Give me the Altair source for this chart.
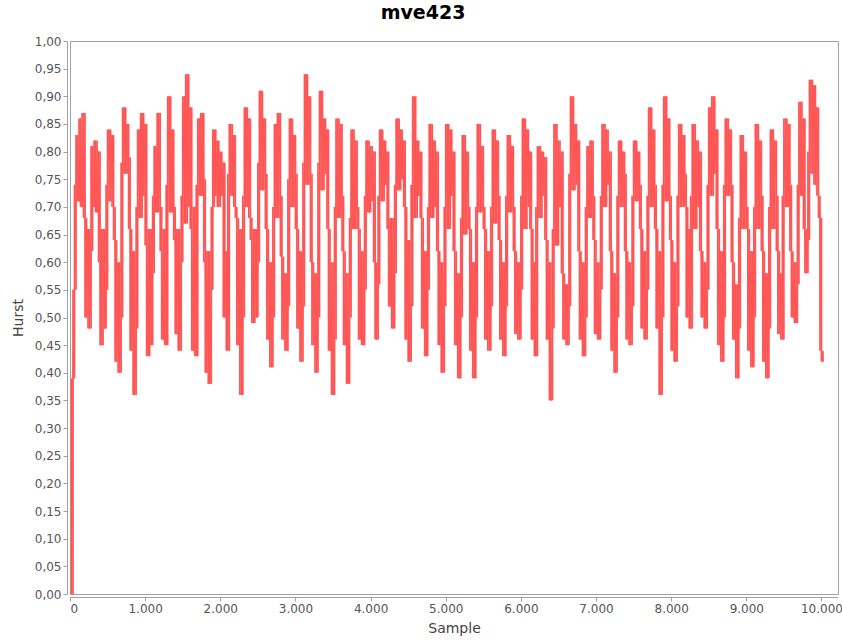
import altair as alt
import pandas as pd

# Hurst exponent estimates, one value every 20 samples, split into five stretches
hurst_a = [0.0, 0.0, 0.39, 0.55,
           0.74, 0.83, 0.71, 0.86, 0.70, 0.87,
           0.68, 0.50, 0.66, 0.48, 0.62,
           0.81, 0.70, 0.82, 0.69, 0.80,
           0.60, 0.45, 0.66, 0.48, 0.55,
           0.74, 0.84, 0.71, 0.83, 0.70,
           0.64, 0.42, 0.60, 0.40, 0.50,
           0.78, 0.88, 0.76, 0.85, 0.79,
           0.66, 0.44, 0.62, 0.36, 0.48,
           0.70, 0.84, 0.68, 0.87, 0.72, 0.85,
           0.63, 0.43, 0.66, 0.45, 0.58,
           0.72, 0.81, 0.69, 0.87, 0.70,
           0.62, 0.46, 0.66, 0.45,
           0.74, 0.90, 0.69, 0.84, 0.70,
           0.64, 0.47, 0.66, 0.44, 0.60,
           0.72, 0.90, 0.67, 0.94, 0.70, 0.88,
           0.66, 0.44, 0.70, 0.43,
           0.74, 0.86, 0.72, 0.87, 0.75,
           0.60, 0.40, 0.62, 0.38, 0.55,
           0.70, 0.84, 0.72, 0.82, 0.70, 0.80, 0.72]

hurst_b = [0.78, 0.50, 0.62, 0.44,
           0.76, 0.85, 0.72, 0.83, 0.70,
           0.68, 0.45, 0.66, 0.36, 0.50,
           0.72, 0.88, 0.70, 0.86, 0.68,
           0.64, 0.49, 0.66, 0.50, 0.60,
           0.78, 0.91, 0.73, 0.86, 0.76,
           0.66, 0.46, 0.60, 0.41, 0.50,
           0.70, 0.85, 0.68, 0.87, 0.72,
           0.61, 0.46, 0.58, 0.44, 0.52,
           0.75, 0.86, 0.70, 0.83, 0.76,
           0.66, 0.48, 0.62, 0.42, 0.52,
           0.78, 0.94, 0.74, 0.90, 0.76,
           0.60, 0.45, 0.58, 0.40, 0.50,
           0.78, 0.91, 0.73, 0.86, 0.76, 0.84,
           0.66, 0.44, 0.60, 0.36, 0.46,
           0.70, 0.86, 0.68, 0.85, 0.72,
           0.62, 0.45, 0.58, 0.38, 0.50,
           0.68, 0.84, 0.66, 0.82, 0.70,
           0.66, 0.46, 0.62, 0.45, 0.55,
           0.72, 0.82, 0.69, 0.81, 0.71, 0.80]

hurst_c = [0.60, 0.46, 0.56,
           0.72, 0.84, 0.71, 0.82, 0.74, 0.80,
           0.66, 0.52, 0.68, 0.48, 0.58,
           0.74, 0.86, 0.73, 0.84, 0.75, 0.82,
           0.70, 0.46, 0.64, 0.42, 0.52,
           0.74, 0.90, 0.68, 0.82, 0.72, 0.80,
           0.68, 0.48, 0.62, 0.43, 0.55,
           0.70, 0.85, 0.68, 0.82, 0.70, 0.80,
           0.62, 0.45, 0.60, 0.40, 0.52,
           0.70, 0.85, 0.66, 0.84, 0.72, 0.80,
           0.62, 0.45, 0.58, 0.39, 0.50,
           0.68, 0.83, 0.65, 0.80, 0.70,
           0.66, 0.44, 0.60, 0.39, 0.50,
           0.70, 0.85, 0.69, 0.81, 0.70,
           0.66, 0.46, 0.62, 0.44, 0.52,
           0.70, 0.84, 0.67, 0.82, 0.72,
           0.64, 0.46, 0.60, 0.43, 0.52,
           0.72, 0.83, 0.69, 0.81, 0.70,
           0.62, 0.47, 0.60, 0.46, 0.55,
           0.72, 0.86, 0.66, 0.84, 0.70, 0.80]

hurst_d = [0.66, 0.46, 0.60, 0.43,
           0.70, 0.81, 0.68, 0.80, 0.72, 0.79,
           0.64, 0.46, 0.60, 0.35, 0.48,
           0.66, 0.85, 0.63, 0.82, 0.70, 0.80,
           0.58, 0.46, 0.56, 0.45, 0.52,
           0.76, 0.90, 0.73, 0.85, 0.74, 0.82,
           0.62, 0.46, 0.60, 0.43, 0.50,
           0.70, 0.81, 0.68, 0.82, 0.72,
           0.64, 0.47, 0.60, 0.46, 0.55,
           0.72, 0.85, 0.70, 0.84, 0.74, 0.80,
           0.62, 0.44, 0.58, 0.40, 0.50,
           0.72, 0.82, 0.70, 0.80, 0.76,
           0.62, 0.46, 0.60, 0.45, 0.52,
           0.72, 0.82, 0.71, 0.80, 0.74,
           0.66, 0.48, 0.62, 0.46, 0.55,
           0.72, 0.88, 0.70, 0.84, 0.74,
           0.66, 0.48, 0.62, 0.36, 0.50,
           0.74, 0.90, 0.71, 0.86, 0.72,
           0.64, 0.44, 0.60, 0.42, 0.52,
           0.72, 0.85, 0.70, 0.83, 0.76]

hurst_e = [0.70, 0.50, 0.66, 0.48,
           0.72, 0.85, 0.66, 0.82, 0.70, 0.80,
           0.62, 0.50, 0.60, 0.48, 0.55,
           0.74, 0.88, 0.72, 0.90, 0.76, 0.84,
           0.66, 0.45, 0.62, 0.42, 0.50,
           0.74, 0.86, 0.72, 0.84, 0.74,
           0.60, 0.46, 0.56, 0.39, 0.48,
           0.68, 0.83, 0.66, 0.80, 0.70,
           0.66, 0.44, 0.62, 0.41, 0.50,
           0.70, 0.85, 0.66, 0.82, 0.72,
           0.62, 0.42, 0.58, 0.39, 0.48,
           0.70, 0.84, 0.66, 0.82, 0.72,
           0.62, 0.47, 0.58, 0.46,
           0.72, 0.86, 0.70, 0.85, 0.74,
           0.62, 0.50, 0.60, 0.49, 0.56,
           0.74, 0.89, 0.72, 0.86,
           0.66, 0.58, 0.64,
           0.80, 0.93, 0.76, 0.92, 0.74, 0.88, 0.72,
           0.68, 0.44, 0.42]

SAMPLE_STEP = 20
x_ticks = [0, 1000, 2000, 3000, 4000, 5000, 6000, 7000, 8000, 9000, 10000]
y_ticks = [round(0.05 * k, 2) for k in range(21)]

values = hurst_a + hurst_b + hurst_c + hurst_d + hurst_e
df = pd.DataFrame({"sample": [i * SAMPLE_STEP for i in range(len(values))],
                   "hurst": values})

FONT = "DejaVu Sans"
AXIS_GRAY = "#a0a0a0"
RED = "#FF5555"

x_axis = alt.Axis(
    title="Sample", values=x_ticks,
    labelExpr="replace(format(datum.value, ',d'), ',', '.')",
    grid=False, offset=3, tickSize=4, labelPadding=2,
    domainColor=AXIS_GRAY, tickColor=AXIS_GRAY,
    labelColor="#555555", labelFont=FONT, labelFontSize=12,
    titleColor="#444444", titleFont=FONT, titleFontSize=14,
    titleFontWeight="normal", titlePadding=7,
)
y_axis = alt.Axis(
    title="Hurst", values=y_ticks,
    labelExpr="replace(format(datum.value, '.2f'), '.', ',')",
    grid=False, offset=3, tickSize=4, labelPadding=2,
    domainColor=AXIS_GRAY, tickColor=AXIS_GRAY,
    labelColor="#555555", labelFont=FONT, labelFontSize=12,
    titleColor="#444444", titleFont=FONT, titleFontSize=14,
    titleFontWeight="normal", titlePadding=9,
)
x_scale = alt.Scale(domain=[0, 10220], nice=False, zero=False)
y_scale = alt.Scale(domain=[0, 1], nice=False, zero=False)

# local min/max of the series around each sample, drawn as vertical strokes
base = alt.Chart(df).transform_window(
    lo="min(hurst)", hi="max(hurst)",
    frame=[-1, 1], sort=[alt.SortField("sample")],
)

strokes = base.mark_rule(color=RED, strokeWidth=1.7, clip=True).encode(
    x=alt.X("sample:Q", scale=x_scale, axis=x_axis),
    y=alt.Y("lo:Q", scale=y_scale, axis=y_axis),
    y2="hi:Q",
)

trace = base.mark_line(color=RED, strokeWidth=1, clip=True).encode(
    x=alt.X("sample:Q", scale=x_scale, axis=x_axis),
    y=alt.Y("hurst:Q", scale=y_scale, axis=y_axis),
)

chart = (
    alt.layer(strokes, trace)
    .properties(
        width=768,
        height=553,
        title=alt.TitleParams(
            "mve423", font=FONT, fontSize=19, fontWeight="bold", color="#000000",
            anchor="middle", frame="group", dx=-31, offset=12,
        ),
        autosize=alt.AutoSizeParams(type="none"),
        padding={"left": 70, "top": 41, "right": 4, "bottom": 48},
        background="white",
    )
    .configure_view(stroke=AXIS_GRAY, strokeWidth=1)
)

chart.save("out.html", embed_options={"renderer": "svg", "actions": False})
